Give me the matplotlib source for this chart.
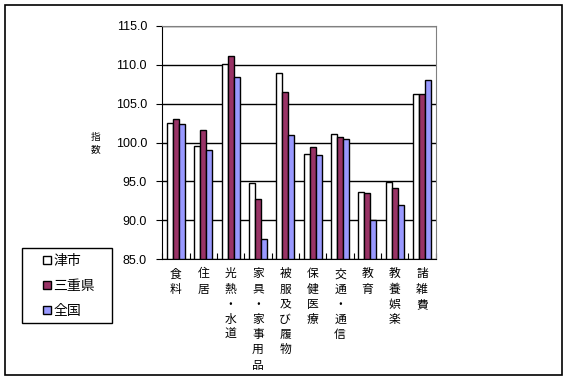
import matplotlib
matplotlib.use("Agg")
import matplotlib.pyplot as plt
from matplotlib.patches import Patch
import numpy as np

plt.rcParams["font.family"] = ["Noto Sans CJK JP", "DejaVu Sans"]

# 品目別の指数
categories = ["食料", "住居", "光熱・水道", "家具・家事用品", "被服及び履物",
              "保健医療", "交通・通信", "教育", "教養娯楽", "諸雑費"]
tsu = [102.5, 99.5, 110.1, 94.8, 108.9, 98.5, 101.1, 93.6, 94.9, 106.3]
mie = [103.0, 101.6, 111.1, 92.7, 106.5, 99.4, 100.7, 93.5, 94.1, 106.2]
zenkoku = [102.4, 99.0, 108.4, 87.6, 101.0, 98.4, 100.5, 90.0, 92.0, 108.0]
series_names = ["津市", "三重県", "全国"]
colors = ["#FFFFFF", "#993366", "#9999FF"]
yticks = [85.0, 90.0, 95.0, 100.0, 105.0, 110.0, 115.0]

fig = plt.figure(figsize=(5.67, 3.79), dpi=100)
ax = fig.add_axes([0.2862, 0.3166, 0.4822, 0.6148])

x = np.arange(len(categories)) + 0.5
w = 0.22
for i, vals in enumerate([tsu, mie, zenkoku]):
    ax.bar(x + (i - 1) * w, np.array(vals) - 85, bottom=85, width=w,
           color=colors[i], edgecolor="black", linewidth=1, zorder=3)

ax.set_xlim(0, len(categories))
ax.set_ylim(85, 115)
ax.set_yticks(yticks)
ax.set_yticklabels(["%.1f" % v for v in yticks], fontsize=9,
                   family=["Liberation Sans", "DejaVu Sans"])
ax.yaxis.grid(True, color="black", linewidth=1)
ax.set_axisbelow(True)

# 区切りの目盛りと縦書きラベル
ax.set_xticks(np.arange(len(categories) + 1))
ax.set_xticklabels([])
ax.tick_params(axis="x", which="major", direction="in", length=4, color="black")
ax.set_xticks(x, minor=True)
ax.set_xticklabels(["\n".join(c) for c in categories], minor=True,
                   fontsize=8.5, linespacing=1.22, va="top")
ax.tick_params(axis="x", which="minor", length=0, pad=6)
ax.tick_params(axis="y", direction="out", length=4, pad=7)

ax.spines["top"].set_color("gray")
ax.spines["right"].set_color("gray")

fig.text(0.168, 0.622, "指\n数", fontsize=7, ha="center", va="center",
         linespacing=1.3)

# 凡例（枠は別に描く）
handles = [Patch(facecolor=c, edgecolor="black") for c in colors]
leg = fig.legend(handles, series_names, loc="upper left",
                 bbox_to_anchor=(43 / 567, 1 - 254 / 379), borderaxespad=0,
                 fontsize=10, frameon=False, handlelength=0.55,
                 handleheight=0.55, handletextpad=0.2, labelspacing=0.78,
                 borderpad=0)
fig.patches.append(plt.Rectangle((22 / 567, 1 - 323 / 379), 90 / 567, 75 / 379,
                                 fill=False, edgecolor="black", linewidth=1,
                                 transform=fig.transFigure))

# 外枠
fig.patches.append(plt.Rectangle((0.009, 0.011), 0.982, 0.976, fill=False,
                                 edgecolor="black", linewidth=1.2,
                                 transform=fig.transFigure))

fig.savefig("out.png", dpi=100)
